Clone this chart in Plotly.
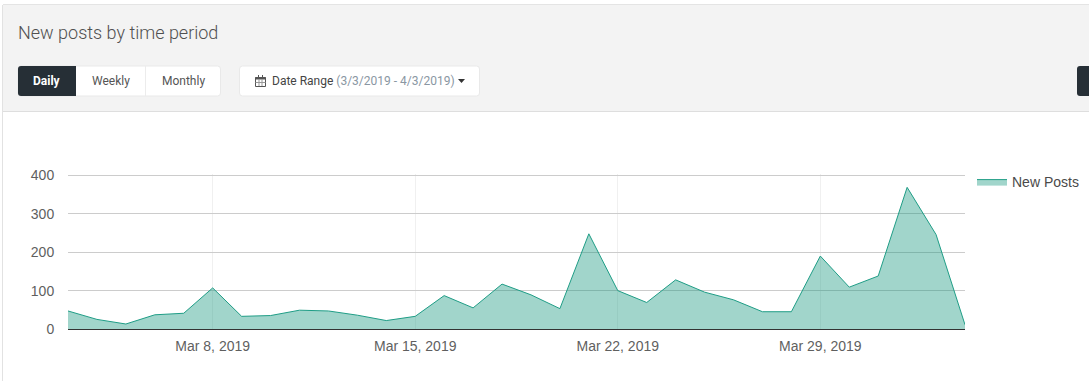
import plotly.graph_objects as go
import pandas as pd

W, H = 1089, 381
dates = pd.date_range("2019-03-03", "2019-04-03").strftime("%Y-%m-%d").tolist()
new_posts = [47, 25, 13, 37, 41, 107, 33, 35, 49, 47, 36, 22, 33, 87, 55, 117,
             89, 53, 248, 100, 69, 128, 96, 76, 45, 45, 190, 109, 138, 369, 246, 11]
x_tick_vals = ["2019-03-08", "2019-03-15", "2019-03-22", "2019-03-29"]
x_tick_text = ["Mar 8, 2019", "Mar 15, 2019", "Mar 22, 2019", "Mar 29, 2019"]
y_tick_vals = [0, 100, 200, 300, 400]
series_name = "New Posts"
title_text = "New posts by time period"

def X(p): return p / W
def Y(p): return 1 - p / H

def rect(x0, y0, x1, y1, fill, line="rgba(0,0,0,0)", lw=0):
    return dict(type="rect", xref="paper", yref="paper", x0=X(x0), x1=X(x1), y0=Y(y0), y1=Y(y1),
                fillcolor=fill, line=dict(color=line, width=lw), layer="below")

def rrect(x0, y0, x1, y1, fill, rl=3, rr=3, line="rgba(0,0,0,0)", lw=0):
    p = (f"M {X(x0+rl)} {Y(y0)} L {X(x1-rr)} {Y(y0)} Q {X(x1)} {Y(y0)} {X(x1)} {Y(y0+rr)} "
         f"L {X(x1)} {Y(y1-rr)} Q {X(x1)} {Y(y1)} {X(x1-rr)} {Y(y1)} L {X(x0+rl)} {Y(y1)} "
         f"Q {X(x0)} {Y(y1)} {X(x0)} {Y(y1-rl)} L {X(x0)} {Y(y0+rl)} Q {X(x0)} {Y(y0)} {X(x0+rl)} {Y(y0)} Z")
    return dict(type="path", xref="paper", yref="paper", path=p, fillcolor=fill,
                line=dict(color=line, width=lw), layer="below")

DARK = "#262f36"
BORDER = "#e9e9e9"
shapes = [
    rect(3, 4, W + 2, 111, "#f3f3f3"),
    rect(3, 4, W + 2, 5, "#e4e4e4"),
    rect(3, 111, W + 2, 112, "#dedede"),
    rect(2, 5, 3, H + 2, "#e2e2e2"),
    rrect(18, 66, 220.5, 96, "#ffffff", line=BORDER, lw=1),
    rrect(18, 66, 76, 96, DARK, rl=3, rr=0),
    rect(145, 66, 146, 96, "#ececec"),
    rrect(239.5, 66, 479.5, 96, "#ffffff", line=BORDER, lw=1),
    rrect(1077, 66, W + 6, 96, DARK),
    # calendar icon
    rect(255.5, 77.5, 265.5, 86.5, "rgba(0,0,0,0)", "#555555", 1),
    rect(255.5, 77, 265.5, 79.5, "#555555"),
    rect(258, 75, 259, 78, "#555555"),
    rect(262, 75, 263, 78, "#555555"),
    rect(258.5, 79, 259.5, 86, "#999999"),
    rect(261.5, 79, 262.5, 86, "#999999"),
    rect(255.5, 82, 265.5, 83, "#999999"),
    # caret
    dict(type="path", xref="paper", yref="paper",
         path=f"M {X(458)} {Y(79)} L {X(465)} {Y(79)} L {X(461.5)} {Y(83)} Z",
         fillcolor="#333333", line=dict(width=0), layer="above"),
]

def label(x, y, text, size, color, anchor="left", weight=400):
    return dict(x=X(x), y=Y(y), xref="paper", yref="paper", text=text, showarrow=False,
                xanchor=anchor, yanchor="middle",
                font=dict(family="Roboto", size=size, color=color, weight=weight))

annotations = [
    label(16, 32, title_text, 18, "#505050", weight=300),
    label(47, 81, "Daily", 12, "#ffffff", "center", 700),
    label(110.5, 81, "Weekly", 12, "#555555", "center"),
    label(183, 81, "Monthly", 12, "#555555", "center"),
    label(270, 81, 'Date Range <span style="color:#8a97a3">(3/3/2019 - 4/3/2019)</span>', 12, "#444444"),
]

fig = go.Figure(go.Scatter(
    x=dates, y=new_posts, name=series_name, mode="lines",
    line=dict(color="#1f9d86", width=1), fill="tozeroy", fillcolor="rgba(20,150,125,0.4)",
))
fig.update_layout(
    width=W, height=H, autosize=False,
    margin=dict(l=0, r=0, t=0, b=0),
    paper_bgcolor="#ffffff", plot_bgcolor="rgba(0,0,0,0)",
    shapes=shapes, annotations=annotations,
    showlegend=True,
    legend=dict(x=X(972), y=Y(166), xanchor="left", yanchor="top", bgcolor="rgba(0,0,0,0)",
                font=dict(family="Liberation Sans", size=14, color="#4a4a4a"), itemwidth=30),
    xaxis=dict(domain=[X(68), X(965)], type="date", range=["2019-03-03", "2019-04-03"],
               automargin=False,
               tickvals=x_tick_vals, ticktext=x_tick_text, showgrid=True, gridcolor="#f0f0f0",
               gridwidth=1, showline=True, linecolor="#333333", linewidth=1, zeroline=False,
               ticks="outside", ticklen=4, tickcolor="rgba(0,0,0,0)",
               tickfont=dict(family="Liberation Sans", size=14, color="#5f5f5f")),
    yaxis=dict(domain=[Y(329), Y(174.1)], range=[0, 403.5], tickvals=y_tick_vals, automargin=False,
               showgrid=True, gridcolor="#cccccc", gridwidth=1, zeroline=False, showline=False,
               ticks="outside", ticklen=10, tickcolor="rgba(0,0,0,0)",
               tickfont=dict(family="Liberation Sans", size=14, color="#5f5f5f")),
)
fig.write_html("out.html", config={"displayModeBar": False},
               post_script="document.body.style.margin='0';document.body.style.overflow='hidden';")
